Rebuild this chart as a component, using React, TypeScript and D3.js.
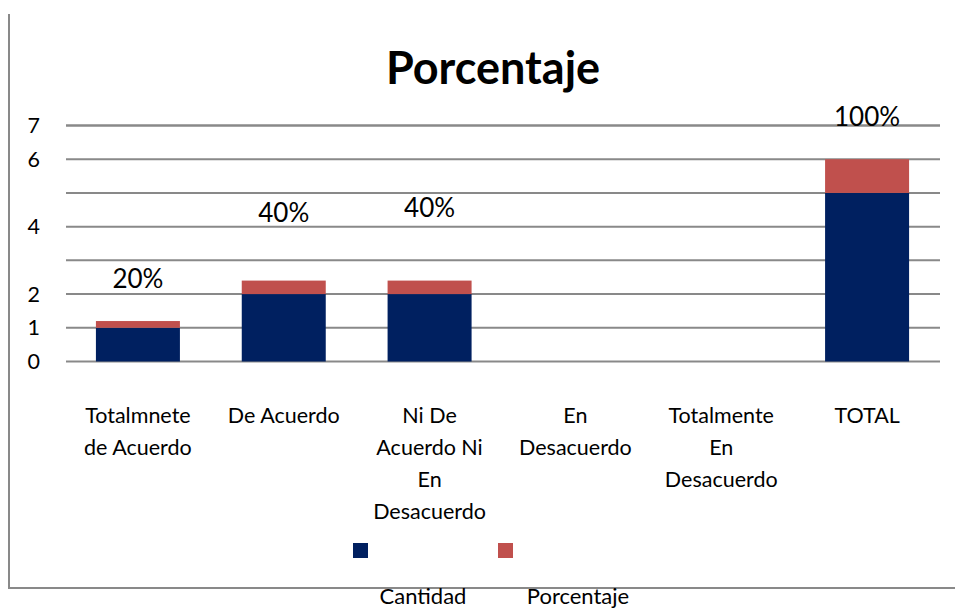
import { useEffect, useRef } from 'react';
import * as d3 from 'd3';

const categories = [
  ['Totalmnete', 'de Acuerdo'],
  ['De Acuerdo'],
  ['Ni De', 'Acuerdo Ni', 'En', 'Desacuerdo'],
  ['En', 'Desacuerdo'],
  ['Totalmente', 'En', 'Desacuerdo'],
  ['TOTAL'],
];
const cantidad = [1, 2, 2, 0, 0, 5];
const porcentaje = [0.2, 0.4, 0.4, 0, 0, 1];
const percentLabels = ['20%', '40%', '40%', '', '', '100%'];
// where Excel put each data label, in axis units
const labelAt = [2.18, 4.14, 4.29, 0, 0, 7.0];
const yTickLabels = [0, 1, 2, 4, 6, 7];
const gridValues = [0, 1, 2, 3, 4, 5, 6, 7];

const NAVY = '#002060';
const RED = '#C0504D';
const GRID = '#898989';
const FONT = 'Lato, Calibri, sans-serif';

export default function App() {
  const svgRef = useRef<SVGSVGElement>(null);

  useEffect(() => {
    if (!svgRef.current) return;
    const svg = d3.select(svgRef.current);
    svg.selectAll('*').remove();

    const keys = categories.map((_, i) => String(i));
    const x = d3.scaleBand().domain(keys).range([65, 940]).paddingInner(0.424).paddingOuter(0.212);
    const y = d3.scaleLinear().domain([0, 7]).range([361.5, 125.5]);

    // frame (left + bottom only)
    svg.append('path')
      .attr('d', 'M9,14 L9,588 L955,588')
      .attr('fill', 'none')
      .attr('stroke', GRID)
      .attr('stroke-width', 2);

    // title
    svg.append('text')
      .attr('x', 493)
      .attr('y', 84)
      .attr('text-anchor', 'middle')
      .attr('font-family', FONT)
      .attr('font-weight', 'bold')
      .attr('font-size', 45)
      .attr('fill', '#000')
      .text('Porcentaje');

    // gridlines
    svg.append('g')
      .selectAll('line')
      .data(gridValues)
      .enter()
      .append('line')
      .attr('x1', 66)
      .attr('x2', 940)
      .attr('y1', (d) => y(d))
      .attr('y2', (d) => y(d))
      .attr('stroke', GRID)
      .attr('stroke-width', (d) => (d === 7 ? 2.5 : 2));

    // y labels
    svg.append('g')
      .selectAll('text')
      .data(yTickLabels)
      .enter()
      .append('text')
      .attr('x', 40)
      .attr('y', (d) => y(d))
      .attr('dy', '0.35em')
      .attr('text-anchor', 'end')
      .attr('font-family', FONT)
      .attr('font-size', 21.5)
      .attr('fill', '#000')
      .text((d) => d);

    // stacked bars
    const bars = svg.append('g');
    keys.forEach((k, i) => {
      const x0 = x(k) ?? 0;
      if (cantidad[i] > 0) {
        bars.append('rect')
          .attr('x', x0)
          .attr('width', x.bandwidth())
          .attr('y', y(cantidad[i]))
          .attr('height', y(0) - y(cantidad[i]))
          .attr('fill', NAVY);
      }
      if (porcentaje[i] > 0) {
        const top = cantidad[i] + porcentaje[i];
        bars.append('rect')
          .attr('x', x0)
          .attr('width', x.bandwidth())
          .attr('y', y(top))
          .attr('height', y(cantidad[i]) - y(top))
          .attr('fill', RED);
      }
    });

    // data labels
    svg.append('g')
      .selectAll('text')
      .data(keys.filter((_, i) => percentLabels[i] !== ''))
      .enter()
      .append('text')
      .attr('x', (k) => (x(k) ?? 0) + x.bandwidth() / 2)
      .attr('y', (k) => y(labelAt[+k]))
      .attr('text-anchor', 'middle')
      .attr('font-family', FONT)
      .attr('font-size', 26)
      .attr('fill', '#000')
      .text((k) => percentLabels[+k]);

    // category labels
    const cat = svg.append('g');
    keys.forEach((k, i) => {
      const cx = (x(k) ?? 0) + x.bandwidth() / 2;
      const t = cat.append('text')
        .attr('x', cx)
        .attr('y', 423)
        .attr('text-anchor', 'middle')
        .attr('font-family', FONT)
        .attr('font-size', 21.5)
        .attr('fill', '#000');
      categories[i].forEach((line, j) => {
        t.append('tspan')
          .attr('x', cx)
          .attr('dy', j === 0 ? 0 : 32)
          .text(line);
      });
    });

    // legend
    const legend = [
      { name: 'Cantidad', color: NAVY, sx: 353, tx: 423 },
      { name: 'Porcentaje', color: RED, sx: 498, tx: 578 },
    ];
    const lg = svg.append('g');
    legend.forEach((l) => {
      lg.append('rect')
        .attr('x', l.sx)
        .attr('y', 543)
        .attr('width', 15)
        .attr('height', 15)
        .attr('fill', l.color);
      lg.append('text')
        .attr('x', l.tx)
        .attr('y', 604)
        .attr('text-anchor', 'middle')
        .attr('font-family', FONT)
        .attr('font-size', 22)
        .attr('fill', '#000')
        .text(l.name);
    });
  }, []);

  return (
    <div style={{ position: 'absolute', left: 0, top: 0, width: 955, height: 610, background: '#fff' }}>
      <svg ref={svgRef} width={955} height={610} style={{ display: 'block' }} />
    </div>
  );
}
